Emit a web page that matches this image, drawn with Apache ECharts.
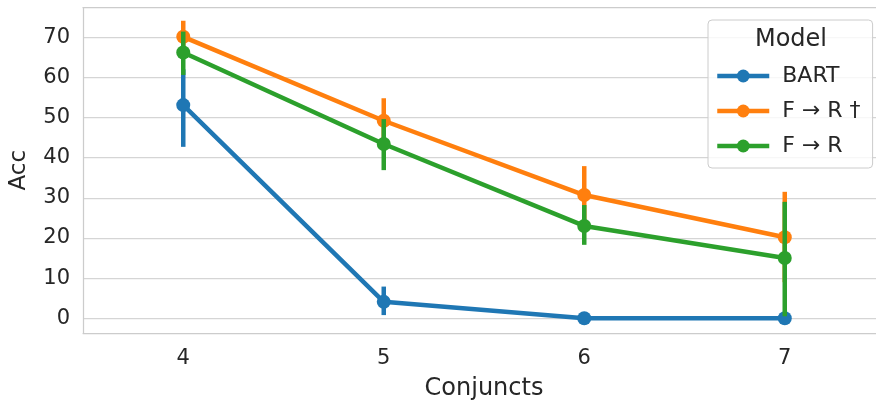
<!DOCTYPE html>
<html>
<head>
<meta charset="utf-8">
<script src="https://cdn.jsdelivr.net/npm/echarts@6/dist/echarts.min.js"></script>
<style>
html,body{margin:0;padding:0;background:#fff;}
#chart{width:876px;height:403px;}
</style>
</head>
<body>
<div id="chart"></div>
<script>
const categories = ['4', '5', '6', '7'];
const seriesNames = ['BART', 'F → R †', 'F → R'];
const bartAcc = [53.1, 4.1, 0, 0];
const bartLow = [42.7, 0.8, 0, 0];
const bartHigh = [62.0, 7.9, 0, 0];
const frDagAcc = [70.1, 49.2, 30.7, 20.2];
const frDagLow = [66.0, 43.5, 24.0, 9.0];
const frDagHigh = [74.1, 54.8, 37.9, 31.5];
const frAcc = [66.2, 43.4, 23.0, 15.0];
const frLow = [60.6, 36.9, 18.3, 0.5];
const frHigh = [71.4, 49.6, 28.2, 29.0];
const yTicks = [0, 10, 20, 30, 40, 50, 60, 70];

const colors = ['#1f77b4', '#ff7f0e', '#2ca02c'];
const accs = [bartAcc, frDagAcc, frAcc];
const lows = [bartLow, frDagLow, frLow];
const highs = [bartHigh, frDagHigh, frHigh];
const FONT = 'DejaVu Sans';
const TXT = '#262626';
const FRAME = '#cccccc';

const series = [];
seriesNames.forEach((name, i) => {
  series.push({
    name: name,
    type: 'line',
    data: accs[i],
    symbol: 'circle',
    symbolSize: 14,
    z: 2 + i,
    clip: false,
    itemStyle: { color: colors[i] },
    lineStyle: { color: colors[i], width: 4.5 },
    emphasis: { disabled: true },
    animation: false
  });
  series.push({
    name: name + ' err',
    type: 'custom',
    z: 2 + i,
    clip: false,
    data: categories.map((c, k) => [k, lows[i][k], highs[i][k]]),
    renderItem: function (params, api) {
      const p1 = api.coord([api.value(0), api.value(1)]);
      const p2 = api.coord([api.value(0), api.value(2)]);
      return {
        type: 'line',
        shape: { x1: p1[0], y1: p1[1], x2: p2[0], y2: p2[1] },
        style: { stroke: colors[i], lineWidth: 4.5 }
      };
    },
    animation: false
  });
});

const chart = echarts.init(document.getElementById('chart'), null, { renderer: 'canvas' });
chart.setOption({
  animation: false,
  backgroundColor: '#ffffff',
  textStyle: { fontFamily: FONT, color: TXT },
  grid: {
    left: 83, top: 7.5, right: -9, bottom: 70,
    outerBoundsMode: 'none',
    containLabel: false,
    show: false
  },
  xAxis: [{
    type: 'category',
    data: categories,
    boundaryGap: true,
    name: 'Conjuncts',
    nameLocation: 'middle',
    nameGap: 44,
    nameTextStyle: { fontFamily: FONT, fontSize: 24, color: TXT },
    axisLine: { show: true, onZero: false, lineStyle: { color: FRAME, width: 1.25 } },
    axisTick: { show: false },
    axisLabel: { fontFamily: FONT, fontSize: 21, color: TXT, margin: 15 },
    splitLine: { show: false }
  }, {
    type: 'category',
    position: 'top',
    data: categories,
    boundaryGap: true,
    axisLine: { show: true, onZero: false, lineStyle: { color: FRAME, width: 1.25 } },
    axisTick: { show: false },
    axisLabel: { show: false },
    splitLine: { show: false }
  }],
  yAxis: {
    type: 'value',
    min: -3.66,
    max: 77.4,
    name: 'Acc',
    nameLocation: 'middle',
    nameGap: 52,
    nameTextStyle: { fontFamily: FONT, fontSize: 23, color: TXT },
    axisLine: { show: true, onZero: false, lineStyle: { color: FRAME, width: 1.25 } },
    axisTick: { show: false, customValues: yTicks },
    axisLabel: {
      fontFamily: FONT, fontSize: 21, color: TXT, margin: 13,
      customValues: yTicks
    },
    splitLine: { show: true, lineStyle: { color: '#d5d5d5', width: 1.25 } }
  },
  legend: {
    data: seriesNames,
    orient: 'vertical',
    left: 708,
    top: 20,
    padding: [45, 12, 11, 7],
    itemWidth: 52,
    itemHeight: 16,
    itemGap: 13,
    backgroundColor: 'rgba(255,255,255,0.8)',
    borderColor: '#cccccc',
    borderWidth: 1,
    borderRadius: 4,
    lineStyle: { width: 4.5 },
    textStyle: { fontFamily: FONT, fontSize: 22, color: TXT, padding: [0, 0, 0, 8] },
    selectedMode: false
  },
  graphic: [{
    type: 'text',
    z: 100,
    style: {
      text: 'Model', x: 791, y: 40, textAlign: 'center', textVerticalAlign: 'middle',
      font: '24px "DejaVu Sans"', fill: TXT
    }
  }],
  series: series
});
</script>
</body>
</html>
